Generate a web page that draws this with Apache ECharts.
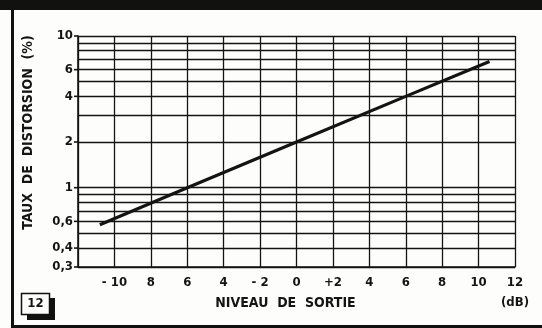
<!DOCTYPE html>
<html>
<head>
<meta charset="utf-8">
<script src="https://cdn.jsdelivr.net/npm/echarts@6/dist/echarts.min.js"></script>
<style>
  html, body { margin: 0; padding: 0; background: #fdfdfb; }
  #chart { width: 542px; height: 328px; }
</style>
</head>
<body>
<div id="chart"></div>
<script>
// Output level (dB) and the distortion (%)
const levelDb = [-10.8, -6, 0, 6, 10.6];
const distortionPct = [0.57, 1.0, 2.0, 4.0, 6.8];

// X tick values and their printed labels
const xTickValues = [-12, -10, -8, -6, -4, -2, 0, 2, 4, 6, 8, 10, 12];
const xTickLabels = ['', '- 10', '8', '6', '4', '- 2', '0', '+2', '4', '6', '8', '10', '12\n(dB)'];

// Horizontal rulings of the log-scale paper
const yGridValues = [0.3, 0.4, 0.5, 0.6, 0.7, 0.8, 0.9, 1, 2, 3, 4, 5, 6, 7, 8, 9, 10];
// Values that carry a printed label, and the label text
const yLabelValues = [0.3, 0.4, 0.6, 1, 2, 4, 6, 10];
const yLabelTexts = ['0,3', '0,4', '0,6', '1', '2', '4', '6', '10'];

const INK = '#141414';
const FONT = '"DejaVu Sans Condensed", "DejaVu Sans", sans-serif';

const chart = echarts.init(document.getElementById('chart'), null, { renderer: 'canvas' });

const rulings = yGridValues.map(v => {
  const idx = yLabelValues.indexOf(v);
  const item = { yAxis: v };
  if (idx >= 0) {
    item.label = {
      show: true,
      position: 'start',
      distance: 0,
      formatter: '{v|' + yLabelTexts[idx] + '}{t|}',
      rich: {
        v: { fontFamily: FONT, fontWeight: 'bold', fontSize: 13, color: INK, padding: [0, 1, 0, 0], verticalAlign: 'middle' },
        t: { width: 4, height: 1.6, backgroundColor: INK, verticalAlign: 'middle' }
      }
    };
  } else {
    item.label = { show: false };
  }
  return item;
});

chart.setOption({
  backgroundColor: '#fdfdfb',
  animation: false,
  grid: { left: 78, right: 27, top: 36, bottom: 61, outerBoundsMode: 'none', containLabel: false },
  xAxis: {
    type: 'value',
    min: -12,
    max: 12,
    interval: 2,
    name: 'NIVEAU  DE  SORTIE',
    nameLocation: 'middle',
    nameGap: 29,
    nameMoveOverlap: false,
    nameTextStyle: { fontFamily: FONT, fontWeight: 'bold', fontSize: 14, color: INK, padding: [0, 22, 0, 0] },
    axisLine: { show: true, onZero: false, lineStyle: { color: INK, width: 1.6 } },
    axisTick: { show: false },
    splitLine: { show: true, lineStyle: { color: INK, width: 1.3 } },
    axisLabel: {
      margin: 6,
      fontFamily: FONT,
      fontWeight: 'bold',
      fontSize: 13,
      color: INK,
      lineHeight: 20,
      formatter: v => {
        const i = xTickValues.indexOf(v);
        return i >= 0 ? xTickLabels[i] : '';
      }
    }
  },
  yAxis: {
    type: 'log',
    logBase: 10,
    min: 0.3,
    max: 10,
    name: 'TAUX  DE  DISTORSION  (%)',
    nameLocation: 'middle',
    nameRotate: 90,
    nameGap: 43,
    nameMoveOverlap: false,
    nameTextStyle: { fontFamily: FONT, fontWeight: 'bold', fontSize: 14, color: INK, padding: [0, 0, 0, 38] },
    axisLine: { show: true, onZero: false, lineStyle: { color: INK, width: 1.6 } },
    axisTick: { show: false },
    axisLabel: { show: false },
    splitLine: { show: false },
    minorSplitLine: { show: false }
  },
  series: [{
    type: 'line',
    data: levelDb.map((x, i) => [x, distortionPct[i]]),
    showSymbol: false,
    symbol: 'none',
    lineStyle: { color: INK, width: 3.2 },
    z: 5,
    markLine: {
      silent: true,
      symbol: ['none', 'none'],
      animation: false,
      lineStyle: { type: 'solid', color: INK, width: 1.3 },
      emphasis: { disabled: true },
      data: rulings
    }
  }],
  graphic: [
    // top band of the plate
    { type: 'rect', shape: { x: 0, y: 0, width: 542, height: 10 }, style: { fill: '#111' }, silent: true },
    // left and bottom frame rules
    { type: 'rect', shape: { x: 11, y: 0, width: 3, height: 328 }, style: { fill: '#111' }, silent: true },
    { type: 'rect', shape: { x: 11, y: 325, width: 531, height: 3 }, style: { fill: '#111' }, silent: true },
    // figure number box with drop shadow
    { type: 'rect', shape: { x: 27, y: 298, width: 28, height: 22 }, style: { fill: '#111' }, silent: true },
    { type: 'rect', shape: { x: 21.5, y: 293.5, width: 28, height: 21 }, style: { fill: '#fdfdfb', stroke: '#111', lineWidth: 1.5 }, silent: true },
    { type: 'text', x: 35.5, y: 304, style: { text: '12', fontFamily: FONT, fontWeight: 'bold', fontSize: 13, fill: INK, align: 'center', verticalAlign: 'middle' }, silent: true }
  ]
});
</script>
</body>
</html>
